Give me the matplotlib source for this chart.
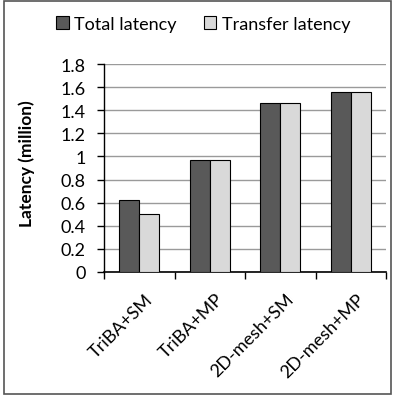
import matplotlib.pyplot as plt
import numpy as np
from matplotlib.patches import Rectangle

categories = ['TriBA+SM', 'TriBA+MP', '2D-mesh+SM', '2D-mesh+MP']
total_latency = [0.62, 0.97, 1.465, 1.555]
transfer_latency = [0.50, 0.97, 1.465, 1.555]

plt.rcParams['font.family'] = ['Lato', 'DejaVu Sans']

fig = plt.figure(figsize=(4.06, 4.02), dpi=100)
ax = fig.add_axes([104 / 406, 1 - 273 / 402, 282 / 406, 208 / 402])

x = np.arange(len(categories))
w = 0.283
ax.bar(x - w / 2, total_latency, w, color='#595959', edgecolor='black', linewidth=0.8,
       label='Total latency', zorder=3)
ax.bar(x + w / 2, transfer_latency, w, color='#d9d9d9', edgecolor='black', linewidth=0.8,
       label='Transfer latency', zorder=3)

ax.set_xlim(-0.5, len(categories) - 0.5)
ax.set_ylim(0, 1.8)
ax.set_yticks(np.arange(0, 1.81, 0.2))
ax.set_yticklabels(['0', '0.2', '0.4', '0.6', '0.8', '1', '1.2', '1.4', '1.6', '1.8'])
ax.yaxis.grid(True, color='#9a9a9a', linewidth=1, zorder=0)
ax.set_axisbelow(True)

# ticks between categories
ax.set_xticks(np.arange(-0.5, len(categories)))
ax.set_xticklabels([])
ax.tick_params(axis='x', length=5, width=1, direction='out')
ax.tick_params(axis='y', length=5, width=1, direction='out', labelsize=13, pad=8)
for xi, cat in zip(x, categories):
    ax.text(xi + 0.08, -0.16, cat, rotation=45, ha='right', va='top', rotation_mode='anchor',
            fontsize=13, transform=ax.transData)

for side in ['top', 'right']:
    ax.spines[side].set_visible(False)
ax.spines['left'].set_linewidth(1)
ax.spines['bottom'].set_linewidth(1.2)

ax.set_ylabel('Latency (million)', fontsize=12.5, fontweight='bold')
ax.yaxis.set_label_coords(-0.245, 0.526)

fig.legend(loc='center', bbox_to_anchor=(0.5, 1 - 25 / 402), ncol=2, frameon=False,
           fontsize=13, handlelength=0.7, handleheight=0.7, handletextpad=0.3,
           columnspacing=1.5)

fig.patches.append(Rectangle((4 / 406, 1 - 395 / 402), 387 / 406, 393 / 402,
                             transform=fig.transFigure, fill=False, edgecolor='#555555',
                             linewidth=1.2))

fig.savefig('out.png', dpi=100)
